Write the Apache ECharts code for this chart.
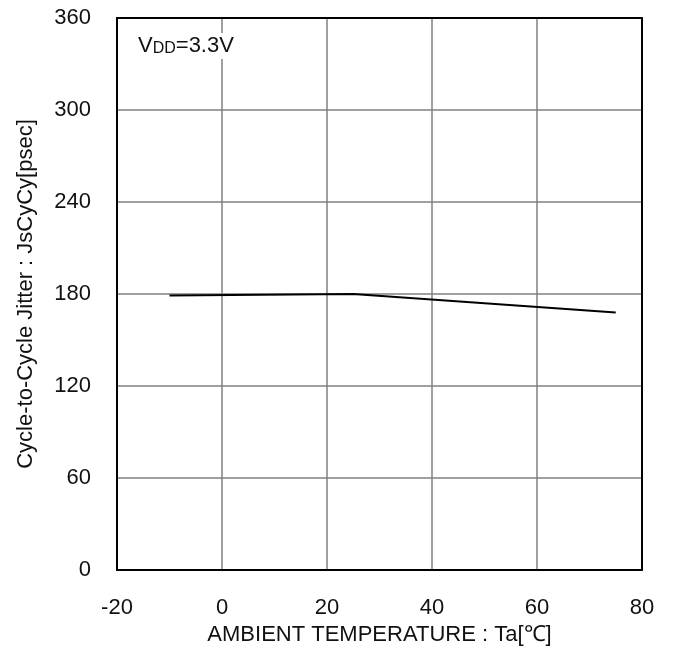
<!DOCTYPE html>
<html><head><meta charset="utf-8">
<script src="https://cdn.jsdelivr.net/npm/echarts@6/dist/echarts.min.js"></script>
<style>html,body{margin:0;padding:0;background:#fff}#c{width:674px;height:650px}</style>
</head><body><div id="c"></div>
<script>
const temps = [-10, 25, 75];
const jitter = [179, 180, 168];
const xTicks = [-20, 0, 20, 40, 60, 80];
const yTicks = [0, 60, 120, 180, 240, 300, 360];
const xTitle = 'AMBIENT TEMPERATURE : Ta[℃]';
const yTitle = 'Cycle-to-Cycle Jitter : JsCyCy[psec]';

const font = 'Liberation Sans, Arial, sans-serif';
const fs = 22;
const xMin = xTicks[0], xMax = xTicks[xTicks.length-1];
const yMin = yTicks[0], yMax = yTicks[yTicks.length-1];
const frame = {show: true, onZero: false, lineStyle: {color: '#000', width: 2}};
const chart = echarts.init(document.getElementById('c'));
chart.setOption({
  animation: false,
  backgroundColor: '#fff',
  grid: {left: 117, right: 32, top: 18, bottom: 80, containLabel: false, outerBoundsMode: 'none'},
  xAxis: [{
    type: 'value', min: xMin, max: xMax, interval: 20, position: 'bottom',
    axisLine: frame, axisTick: {show: false}, z: 3,
    splitLine: {show: true, lineStyle: {color: '#808080', width: 1.5}},
    axisLabel: {margin: 27, fontSize: fs, color: '#111', fontFamily: font},
    name: xTitle, nameLocation: 'middle', nameGap: 51,
    nameTextStyle: {fontSize: fs, color: '#111', fontFamily: font}
  }, {
    type: 'value', min: xMin, max: xMax, interval: 20, position: 'top',
    axisLine: frame, axisTick: {show: false}, axisLabel: {show: false}, splitLine: {show: false}, z: 3
  }],
  yAxis: [{
    type: 'value', min: yMin, max: yMax, interval: 60, position: 'left',
    axisLine: frame, axisTick: {show: false}, z: 3,
    splitLine: {show: true, lineStyle: {color: '#808080', width: 1.5}},
    axisLabel: {margin: 26, fontSize: fs, color: '#111', fontFamily: font},
    name: yTitle, nameLocation: 'middle', nameGap: 80,
    nameTextStyle: {fontSize: fs, color: '#111', fontFamily: font}
  }, {
    type: 'value', min: yMin, max: yMax, interval: 60, position: 'right',
    axisLine: frame, axisTick: {show: false}, axisLabel: {show: false}, splitLine: {show: false}, z: 3
  }],
  graphic: [{
    type: 'text', left: 135, top: 33, z: 10,
    style: {
      text: 'V{s|DD}=3.3V', fontSize: 22, fill: '#111', fontFamily: font,
      backgroundColor: '#fff', padding: [2, 3, 2, 3],
      rich: {s: {fontSize: 16, fontFamily: font, fill: '#111', padding: [5, 0, 0, 0]}}
    }
  }],
  series: [{
    type: 'line', data: temps.map((t, i) => [t, jitter[i]]),
    showSymbol: false, lineStyle: {color: '#000', width: 2}, z: 5
  }]
});
</script></body></html>
